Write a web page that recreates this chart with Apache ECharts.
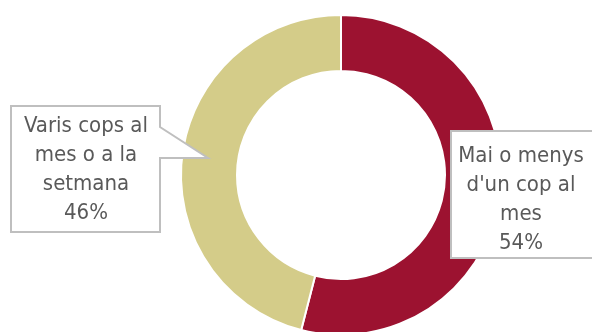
<!DOCTYPE html>
<html>
<head>
<meta charset="utf-8">
<script src="https://cdn.jsdelivr.net/npm/echarts@6/dist/echarts.min.js"></script>
<style>
  html, body { margin: 0; padding: 0; background: #fff; }
  #myChart { width: 592px; height: 332px; }
</style>
</head>
<body>
<div id="myChart"></div>
<script>
// dades
var categories = ["Mai o menys\nd'un cop al\nmes", "Varis cops al\nmes o a la\nsetmana"];
var values = [54, 46];
var colors = ['#9c1230', '#d4cc89'];

// posicio dels textos de cada etiqueta (centre)
var labelPos = [[521, 200], [86, 170]];

var chart = echarts.init(document.getElementById('myChart'));
chart.setOption({
  animation: false,
  graphic: [
    {
      // caixa amb punter (esquerra)
      type: 'polygon',
      z: 5,
      shape: { points: [[11, 106], [160, 106], [160, 127], [208, 158], [160, 158], [160, 232], [11, 232]] },
      style: { fill: '#fff', stroke: '#bfbfbf', lineWidth: 2 }
    },
    {
      // caixa dreta
      type: 'rect',
      z: 5,
      shape: { x: 451, y: 131, width: 160, height: 127 },
      style: { fill: '#fff', stroke: '#bfbfbf', lineWidth: 2 }
    }
  ],
  series: [
    {
      type: 'pie',
      z: 1,
      center: [341, 175],
      radius: [104, 160],
      startAngle: 90,
      clockwise: true,
      silent: true,
      itemStyle: { borderColor: '#fff', borderWidth: 2 },
      label: { show: false },
      labelLine: { show: false },
      data: categories.map(function (name, i) {
        return { name: name, value: values[i], itemStyle: { color: colors[i] } };
      })
    },
    {
      // serie transparent nomes per les etiquetes, per sobre de les caixes
      type: 'pie',
      z: 10,
      center: [341, 175],
      radius: [104, 160],
      startAngle: 90,
      clockwise: true,
      silent: true,
      itemStyle: { color: 'rgba(0,0,0,0)', borderWidth: 0 },
      label: {
        show: true,
        position: 'outside',
        formatter: '{b}\n{c}%',
        fontFamily: '"DejaVu Sans Condensed", "DejaVu Sans", sans-serif',
        fontSize: 22,
        lineHeight: 29,
        color: '#595959',
        align: 'center',
        overflow: 'none',
        width: 200
      },
      labelLine: { show: false },
      labelLayout: function (params) {
        var p = labelPos[params.dataIndex];
        return { x: p[0], y: p[1], align: 'center', verticalAlign: 'middle' };
      },
      data: categories.map(function (name, i) {
        return { name: name, value: values[i] };
      })
    }
  ]
});
</script>
</body>
</html>
